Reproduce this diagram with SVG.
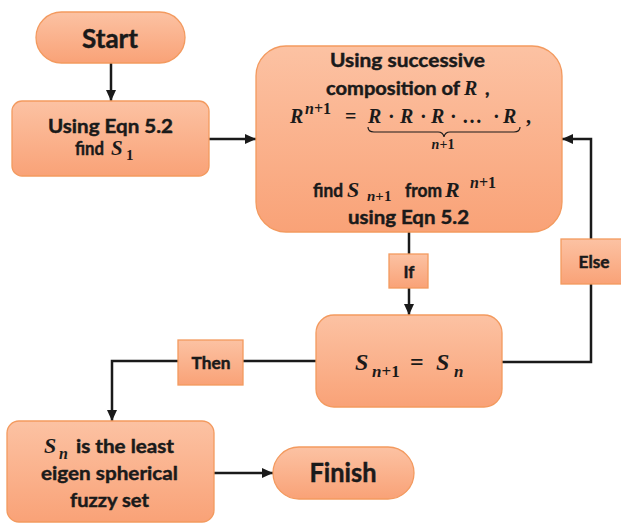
<svg xmlns="http://www.w3.org/2000/svg" width="621" height="523" viewBox="0 0 621 523">
<defs>
<linearGradient id="g" x1="0" y1="0" x2="0" y2="1">
<stop offset="0" stop-color="#FCC2A3"/>
<stop offset="1" stop-color="#F9A277"/>
</linearGradient>
<marker id="ah" markerUnits="userSpaceOnUse" markerWidth="11" markerHeight="10" refX="11" refY="5" orient="auto">
<path d="M0,0 L11,5 L0,10 z" fill="#1a1a1a"/>
</marker>
<style>
.box{fill:url(#g);stroke:#F39A5F;stroke-width:1.3}
.t{font-family:Lato,"Open Sans","Liberation Sans",sans-serif;font-weight:bold;fill:#1a1a1a;stroke:#1a1a1a;stroke-width:0.45}
.m{font-family:"Liberation Serif","DejaVu Serif",serif;font-weight:bold;font-style:italic;fill:#1a1a1a}
.u{font-family:"Liberation Serif","DejaVu Serif",serif;font-weight:bold;fill:#1a1a1a}
.c{fill:none;stroke:#1a1a1a;stroke-width:2.5}
</style>
</defs>
<rect width="621" height="523" fill="#ffffff"/>
<g id="connectors">
<path class="c" d="M111,63 V101" marker-end="url(#ah)"/>
<path class="c" d="M209,139 H256" marker-end="url(#ah)"/>
<path class="c" d="M409,232 V315" marker-end="url(#ah)"/>
<path class="c" d="M502,362 H591 V139 H562" marker-end="url(#ah)"/>
<path class="c" d="M316,361 H112 V421" marker-end="url(#ah)"/>
<path class="c" d="M214,473 H273" marker-end="url(#ah)"/>
</g>
<g id="start">
<rect class="box" x="36" y="12" width="149" height="51" rx="25.5"/>
<text class="t" x="110" y="48" font-size="26" text-anchor="middle" textLength="56" lengthAdjust="spacingAndGlyphs">Start</text>
</g>
<g id="find-s1">
<rect class="box" x="12" y="101" width="197" height="75" rx="10"/>
<text class="t" x="48" y="133" font-size="19" textLength="125" lengthAdjust="spacingAndGlyphs">Using Eqn 5.2</text>
<text class="t" x="75" y="155" font-size="19" textLength="29" lengthAdjust="spacingAndGlyphs">find</text>
<text class="m" x="111" y="155" font-size="21">S</text>
<text class="u" x="126" y="160" font-size="15">1</text>
</g>
<g id="compose">
<rect class="box" x="256" y="46" width="306" height="186" rx="30"/>
<text class="t" x="330" y="67" font-size="19" textLength="155" lengthAdjust="spacingAndGlyphs">Using successive</text>
<text class="t" x="326" y="95" font-size="19" textLength="134" lengthAdjust="spacingAndGlyphs">composition of</text>
<text class="m" x="464" y="95" font-size="20">R</text>
<text class="t" x="485" y="95" font-size="19">,</text>
<text class="m" x="290" y="123" font-size="20">R</text>
<text class="m" x="305" y="114" font-size="16">n<tspan class="u" font-style="normal">+1</tspan></text>
<text class="u" x="345" y="123" font-size="20">=</text>
<text class="m" x="368" y="123" font-size="20">R</text>
<text class="u" x="388" y="123" font-size="20">·</text>
<text class="m" x="400" y="123" font-size="20">R</text>
<text class="u" x="420" y="123" font-size="20">·</text>
<text class="m" x="431" y="123" font-size="20">R</text>
<text class="u" x="450" y="123" font-size="20">·</text>
<text class="u" x="462" y="123" font-size="20">…</text>
<text class="u" x="493" y="123" font-size="20">·</text>
<text class="m" x="503" y="123" font-size="20">R</text>
<text class="u" x="526" y="123" font-size="20">,</text>
<path d="M368,127 Q368,132 374,132 H438 Q443,132 444,137 Q445,132 450,132 H514 Q520,132 520,127" fill="none" stroke="#1a1a1a" stroke-width="1.2"/>
<text class="m" x="443" y="149" font-size="14" text-anchor="middle">n<tspan class="u" font-style="normal">+1</tspan></text>
<text class="t" x="313" y="197" font-size="19" textLength="30" lengthAdjust="spacingAndGlyphs">find</text>
<text class="m" x="347" y="197" font-size="22">S</text>
<text class="m" x="367" y="201" font-size="15">n<tspan class="u" font-style="normal">+1</tspan></text>
<text class="t" x="405" y="197" font-size="19" textLength="37" lengthAdjust="spacingAndGlyphs">from</text>
<text class="m" x="445" y="197" font-size="22">R</text>
<text class="m" x="470" y="188" font-size="16">n<tspan class="u" font-style="normal">+1</tspan></text>
<text class="t" x="348" y="224" font-size="19" textLength="121" lengthAdjust="spacingAndGlyphs">using Eqn 5.2</text>
</g>
<g id="if-label">
<rect class="box" x="389" y="254" width="39" height="34"/>
<text class="t" x="409" y="278" font-size="17" text-anchor="middle">If</text>
</g>
<g id="else-label">
<rect class="box" x="561" y="239" width="62" height="45"/>
<text class="t" x="594" y="268" font-size="17" text-anchor="middle" textLength="31" lengthAdjust="spacingAndGlyphs">Else</text>
</g>
<g id="check">
<rect class="box" x="316" y="315" width="186" height="92" rx="18"/>
<text class="m" x="355" y="370" font-size="24">S</text>
<text class="m" x="372" y="377" font-size="17">n<tspan class="u" font-style="normal">+1</tspan></text>
<text class="u" x="410" y="370" font-size="24">=</text>
<text class="m" x="436" y="370" font-size="24">S</text>
<text class="m" x="454" y="377" font-size="17">n</text>
</g>
<g id="then-label">
<rect class="box" x="178" y="340" width="65" height="45"/>
<text class="t" x="211" y="369" font-size="17" text-anchor="middle" textLength="39" lengthAdjust="spacingAndGlyphs">Then</text>
</g>
<g id="result">
<rect class="box" x="7" y="421" width="207" height="101" rx="12"/>
<text class="m" x="44" y="453" font-size="22">S</text>
<text class="m" x="59" y="459" font-size="16">n</text>
<text class="t" x="76" y="453" font-size="19" textLength="98" lengthAdjust="spacingAndGlyphs">is the least</text>
<text class="t" x="41" y="480" font-size="19" textLength="137" lengthAdjust="spacingAndGlyphs">eigen spherical</text>
<text class="t" x="70" y="507" font-size="19" textLength="79" lengthAdjust="spacingAndGlyphs">fuzzy set</text>
</g>
<g id="finish">
<rect class="box" x="273" y="447" width="141" height="52" rx="26"/>
<text class="t" x="343" y="482" font-size="26" text-anchor="middle" textLength="67" lengthAdjust="spacingAndGlyphs">Finish</text>
</g>
</svg>
